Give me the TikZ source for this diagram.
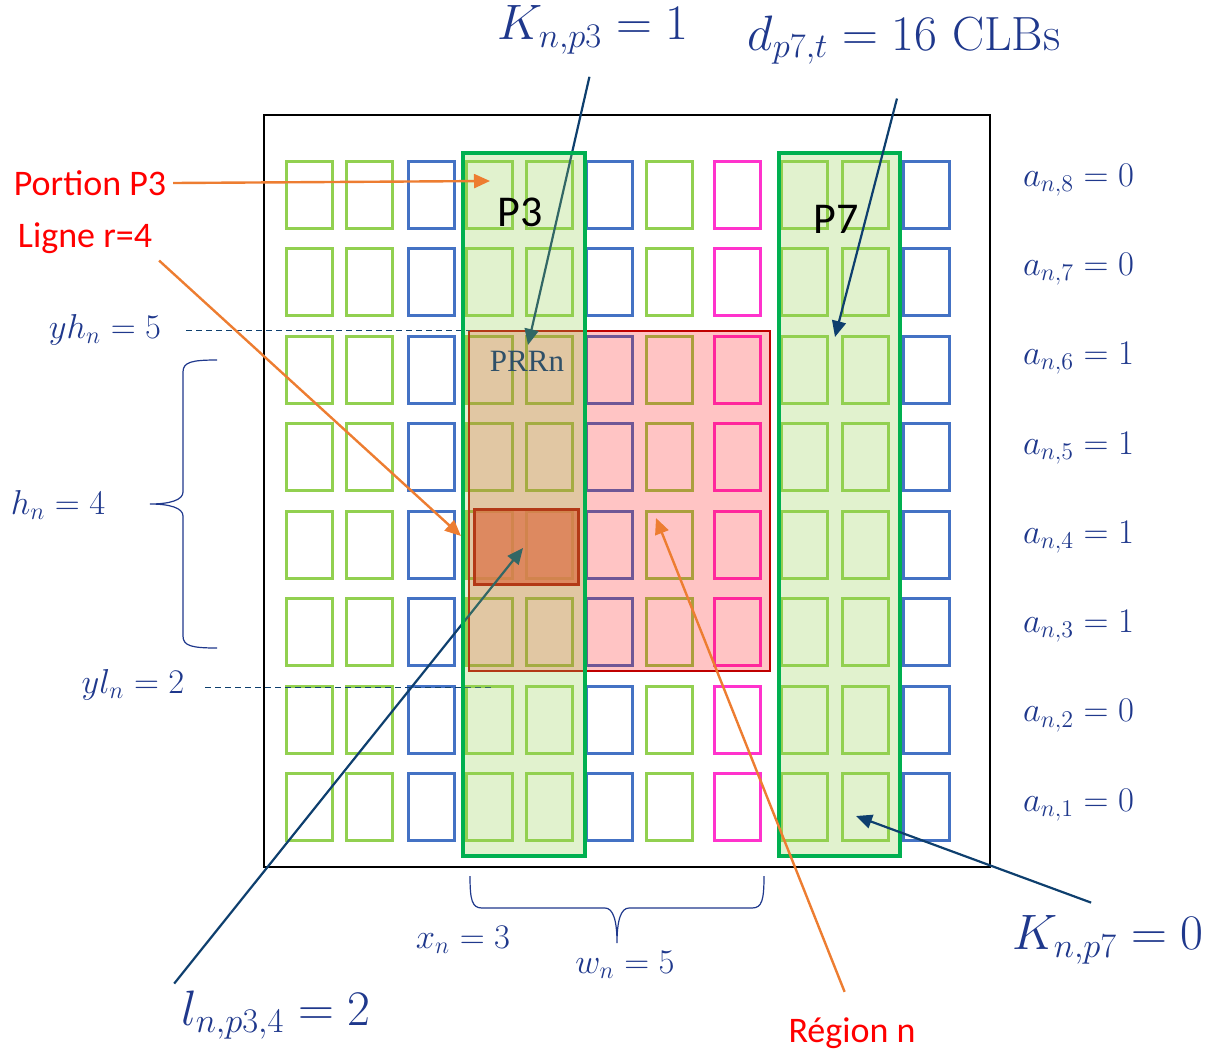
\documentclass[tikz,border=0pt]{standalone}
\usepackage{fontspec}
\usepackage{tikz}
\usetikzlibrary{arrows.meta,positioning}
\newfontfamily\calib{Carlito}
\newfontfamily\timesf{Liberation Serif}
\definecolor{cgreen}{RGB}{146,208,80}
\definecolor{cblue}{RGB}{68,114,196}
\definecolor{cmag}{RGB}{255,51,204}
\definecolor{pgreen}{RGB}{0,176,80}
\definecolor{prred}{RGB}{192,0,0}
\definecolor{navy}{RGB}{14,63,110}
\definecolor{mblue}{RGB}{31,56,140}
\definecolor{orng}{RGB}{237,125,49}
\definecolor{rowfill}{RGB}{250,90,80}

\begin{document}
\begin{tikzpicture}[x=0.5pt,y=-0.5pt,
    cell/.style={draw=#1,line width=1.5pt,minimum width=23pt,minimum height=33.5pt,inner sep=0pt,outer sep=0pt},
    lab/.style={text=mblue,font=\fontsize{16.5}{19}\selectfont},
    big/.style={text=mblue,font=\fontsize{24}{28}\selectfont},
    redlab/.style={text=red,font=\calib\fontsize{18}{21}\selectfont},
    oarrow/.style={-{Triangle[length=8pt,width=7pt]},orng,line width=1.2pt},
    narrow/.style={-{Triangle[length=8pt,width=7pt]},navy,line width=1.1pt},
    guide/.style={navy,line width=0.5pt,dash pattern=on 3pt off 2pt},
    brc/.style={mblue,line width=0.6pt}]
    \useasboundingbox (0,0) rectangle (1215,1055);

    % device frame
    \draw[line width=1.25pt] (264,115) rectangle (990,867);

    % CLB / BRAM / DSP columns
    \foreach \x/\c [count=\k] in {309/cgreen,369/cgreen,431/cblue,489/cgreen,549/cgreen,609/cblue,669/cgreen,737/cmag,804.5/cgreen,865/cgreen,926.5/cblue}
        \foreach \r in {1,...,8}
            \node[cell=\c] (c\k-\r) at (\x,{194.5+(\r-1)*87.5}) {};

    % region n
    \fill[red,opacity=0.23] (469,331) rectangle (770,671);
    \draw[prred,line width=1pt] (469,331) rectangle (770,671);
    \draw[prred,line width=1.5pt,fill=rowfill,fill opacity=0.8] (474,509) rectangle (578,584);

    % labels left
    \node[redlab] (portion) at (90,183) {Portion P3};
    \node[redlab] (ligne) at (85,238) {Ligne r=4};
    \node[lab] (yh) at (105,330) {$yh_n = 5$};
    \node[lab] (hn) at (58,505) {$h_n = 4$};
    \node[lab] (yl) at (133,685) {$yl_n = 2$};
    \coordinate (yhend) at (470,330);
    \coordinate (ylend) at (493,687);
    \draw[guide,shorten <=9pt] (yh.east) -- (yhend);
    \draw[guide,shorten <=7pt] (yl.east |- ylend) -- (ylend);

    % top and bottom labels
    \node[big] (kp3) at (593,30) {$K_{n,p3} = 1$};
    \node[big] (dpt) at (904,40) {$d_{p7,t} = 16\ \mathrm{CLBs}$};
    \node[big] (lnp) at (276,1015) {$l_{n,p3,4} = 2$};
    \node[big] (kp7) at (1108,940) {$K_{n,p7} = 0$};
    \node[redlab] (region) at (852,1033) {Région n};
    \node[lab] (xn) at (463,940) {$x_n = 3$};
    \node[lab] (wn) at (625,965) {$w_n = 5$};

    \coordinate (kp3t) at (528,345);
    \coordinate (lnpt) at (523,548);
    \draw[narrow,shorten <=8pt] (kp3.south) -- (kp3t);
    \draw[narrow] (lnp.north west) -- (lnpt);

    % portions P3 and P7
    \fill[cgreen,opacity=0.28] (463,153) rectangle (585,856);
    \draw[pgreen,line width=2pt] (463,153) rectangle (585,856);
    \fill[cgreen,opacity=0.28] (779,153) rectangle (900,856);
    \draw[pgreen,line width=2pt] (779,153) rectangle (900,856);
    \node[font=\calib\fontsize{22}{26}\selectfont] (p3) at (520,212) {P3};
    \node[font=\calib\fontsize{22}{26}\selectfont] (p7) at (836,219) {P7};
    \node[font=\timesf\fontsize{15.5}{18}\selectfont,text={rgb,255:red,47;green,80;blue,104}] (prrn) at (527,361) {PRRn};

    % a_{n,r}
    \foreach \k/\v in {1/0,2/0,3/1,4/1,5/1,6/1,7/0,8/0}
        \node[lab,anchor=west] (a\k) at (1016,{805-(\k-1)*89.3}) {$a_{n,\k} = \v$};

    \coordinate (portiont) at (490,181);
    \coordinate (lignet) at (461,536);
    \coordinate (dptt) at (835,337);
    \coordinate (regiont) at (656,518);
    \coordinate (kp7t) at (856,816);
    \draw[oarrow] (portion.east) -- (portiont);
    \draw[oarrow] (ligne.south east) -- (lignet);
    \draw[oarrow,shorten <=10pt] (region.north) -- (regiont);
    \draw[narrow,shorten <=14pt] (dpt.south) -- (dptt);
    \draw[narrow,shorten <=9pt] (kp7.north) -- (kp7t);

    % braces
    \draw[brc] (217,360) .. controls (192,360) and (183,362) .. (183,372) -- (183,492)
        .. controls (183,500) and (170,504) .. (150,504)
        .. controls (170,504) and (183,508) .. (183,516) -- (183,636)
        .. controls (183,646) and (192,648) .. (217,648);
    \draw[brc] (470,876) .. controls (470,900) and (472,908) .. (482,908) -- (605,908)
        .. controls (613,908) and (617,920) .. (617,943)
        .. controls (617,920) and (621,908) .. (629,908) -- (752,908)
        .. controls (762,908) and (764,900) .. (764,876);
\end{tikzpicture}
\end{document}
